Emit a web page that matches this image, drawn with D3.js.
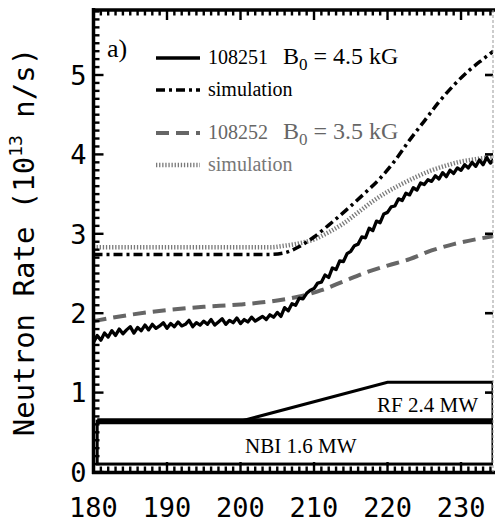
<!DOCTYPE html>
<html>
<head>
<meta charset="utf-8">
<script src="https://cdn.jsdelivr.net/npm/d3@7"></script>
<style>
  body { margin: 0; background: #fff; }
  svg { display: block; }
</style>
</head>
<body>
<script>
// shot 108251, measured neutron rate, one sample every 0.5 ms from 180 ms
const shot251Start = 180;
const shot251Step = 0.5;
const shot251Rate = [
  1.63, 1.72, 1.66, 1.75, 1.70, 1.78, 1.72, 1.80, 1.74, 1.79,
  1.83, 1.75, 1.82, 1.78, 1.85, 1.79, 1.86, 1.81, 1.84, 1.88,
  1.81, 1.87, 1.83, 1.89, 1.84, 1.86, 1.91, 1.83, 1.88, 1.85,
  1.90, 1.86, 1.92, 1.85, 1.89, 1.93, 1.86, 1.91, 1.88, 1.94,
  1.87, 1.92, 1.89, 1.95, 1.90, 1.93, 1.96, 1.92, 1.98, 1.95,
  2.01, 1.96, 2.07, 2.03, 2.12, 2.10, 2.19, 2.18, 2.25, 2.29,
  2.31, 2.38, 2.39, 2.48, 2.45, 2.57, 2.55, 2.66, 2.65, 2.75,
  2.78, 2.85, 2.87, 2.96, 2.95, 3.07, 3.04, 3.16, 3.14, 3.25,
  3.27, 3.34, 3.35, 3.44, 3.42, 3.51, 3.49, 3.58, 3.55, 3.64,
  3.62, 3.68, 3.66, 3.73, 3.69, 3.77, 3.72, 3.80, 3.76, 3.83,
  3.80, 3.87, 3.83, 3.90, 3.85, 3.93, 3.87, 3.96, 3.89, 3.94
];

// simulation for 108251
const sim251Time = [180, 204, 206, 208, 210, 212, 215, 217, 219, 221, 223, 225, 227, 229, 231, 233, 234.4];
const sim251Rate = [2.74, 2.74, 2.76, 2.84, 2.96, 3.11, 3.35, 3.52, 3.70, 3.92, 4.18, 4.42, 4.66, 4.87, 5.05, 5.20, 5.30];

// shot 108252, measured (smooth dashed trace)
const shot252Time = [180, 185, 190, 195, 200, 205, 208, 211, 214, 217, 220, 223, 226, 229, 232, 234.4];
const shot252Rate = [1.90, 1.98, 2.04, 2.08, 2.11, 2.16, 2.21, 2.29, 2.40, 2.51, 2.60, 2.68, 2.79, 2.87, 2.93, 2.97];

// simulation for 108252
const sim252Time = [180, 204, 206, 208, 210, 212, 214, 216, 218, 220, 222, 224, 226, 228, 230, 232, 234.4];
const sim252Rate = [2.83, 2.83, 2.85, 2.88, 2.93, 3.02, 3.13, 3.27, 3.41, 3.53, 3.63, 3.72, 3.80, 3.86, 3.91, 3.94, 3.97];

// heating waveforms drawn at the bottom
const nbiTime = [180.5, 234.35];
const nbiLevel = [0.1, 0.64];
const rfTime = [200, 220, 234.35];
const rfLevel = [0.64, 1.13, 1.13];

const xTicks = [180, 190, 200, 210, 220, 230];
const yTicks = [0, 1, 2, 3, 4, 5];

const W = 495, H = 523;
const plotTop = 10, plotRight = 493, plotLeft = 93.5, plotBottom = 472;

const x = d3.scaleLinear().domain([180, 234.35]).range([plotLeft, plotRight]);
const y = d3.scaleLinear().domain([0, 5]).range([plotBottom, 75]);

const svg = d3.select("body").append("svg")
  .attr("width", W).attr("height", H)
  .style("background", "#fff");

svg.append("defs").append("clipPath").attr("id", "plot")
  .append("rect").attr("x", plotLeft).attr("y", plotTop)
  .attr("width", plotRight - plotLeft).attr("height", plotBottom - plotTop);

const serif = "'Liberation Serif', 'Times New Roman', serif";
const mono = "'DejaVu Sans Mono', monospace";

// NBI and RF boxes
const g = svg.append("g").attr("clip-path", "url(#plot)");
g.append("rect")
  .attr("x", x(nbiTime[0])).attr("y", y(nbiLevel[1]))
  .attr("width", x(nbiTime[1]) - x(nbiTime[0]))
  .attr("height", y(nbiLevel[0]) - y(nbiLevel[1]))
  .attr("fill", "none").attr("stroke", "#000").attr("stroke-width", 3);
g.append("line")
  .attr("x1", x(nbiTime[0])).attr("x2", x(nbiTime[1]))
  .attr("y1", y(nbiLevel[1])).attr("y2", y(nbiLevel[1]))
  .attr("stroke", "#000").attr("stroke-width", 6);
const rfPts = rfTime.map((t, i) => [x(t), y(rfLevel[i])]);
rfPts.push([x(rfTime[2]), y(nbiLevel[1])]);
g.append("path")
  .attr("d", d3.line()(rfPts))
  .attr("fill", "none").attr("stroke", "#000").attr("stroke-width", 3)
  .attr("stroke-linejoin", "miter");

svg.append("text").text("NBI 1.6 MW")
  .attr("x", x(208.2)).attr("y", 453).attr("text-anchor", "middle")
  .attr("font-family", serif).attr("font-size", 21);
svg.append("text").text("RF 2.4 MW")
  .attr("x", 478).attr("y", 412).attr("text-anchor", "end")
  .attr("font-family", serif).attr("font-size", 21);

// curves
const line = d3.line().x(d => x(d[0])).y(d => y(d[1]));
const smooth = d3.line().x(d => x(d[0])).y(d => y(d[1])).curve(d3.curveMonotoneX);
const zip = (a, b) => a.map((t, i) => [t, b[i]]);

const shot251 = shot251Rate.map((v, i) => [shot251Start + i * shot251Step, v]);

const styles = {
  sim252: { stroke: "#7a7a7a", width: 4.5, dash: "1.3,1.8" },
  shot252: { stroke: "#666", width: 4, dash: "13,7" },
  sim251: { stroke: "#000", width: 3.5, dash: "9,4,3,4" },
  shot251: { stroke: "#000", width: 3.3, dash: null }
};

function curve(path, s) {
  g.append("path").attr("d", path)
    .attr("fill", "none").attr("stroke", s.stroke).attr("stroke-width", s.width)
    .attr("stroke-dasharray", s.dash).attr("stroke-linejoin", "round");
}
curve(smooth(zip(sim252Time, sim252Rate)), styles.sim252);
curve(smooth(zip(shot252Time, shot252Rate)), styles.shot252);
curve(smooth(zip(sim251Time, sim251Rate)), styles.sim251);
curve(line(shot251), styles.shot251);

// tick marks, drawn as small filled bars pointing into the plot
const tickG = svg.append("g").attr("fill", "#000");
const yMinor = d3.range(0, 59);
tickG.selectAll("rect.yl").data(yMinor).join("rect").attr("class", "yl")
  .attr("x", plotLeft)
  .attr("y", i => y(i / 10) - 1.2)
  .attr("width", i => i % 10 === 0 ? 10 : 6)
  .attr("height", 2.4);
const xMinor = d3.range(180, 235);
tickG.selectAll("rect.xt").data(xMinor).join("rect").attr("class", "xt")
  .attr("x", t => x(t) - 1.2)
  .attr("y", plotTop)
  .attr("width", 2.4)
  .attr("height", t => t % 10 === 0 ? 10 : 5.5);
tickG.selectAll("rect.xb").data(xMinor).join("rect").attr("class", "xb")
  .attr("x", t => x(t) - 1.2)
  .attr("y", t => plotBottom - (t % 10 === 0 ? 10 : 5.5))
  .attr("width", 2.4)
  .attr("height", t => t % 10 === 0 ? 10 : 5.5);
tickG.selectAll("rect.yr").data(yTicks.slice(1)).join("rect").attr("class", "yr")
  .attr("x", plotRight - 8)
  .attr("y", v => y(v) - 1.3)
  .attr("width", 8)
  .attr("height", 2.6);

// tick labels
svg.append("g").selectAll("text").data(yTicks).join("text")
  .attr("x", plotLeft - 7).attr("y", d => y(d)).attr("dy", "0.36em")
  .attr("text-anchor", "end")
  .attr("font-family", mono).attr("font-size", 27)
  .text(d => d);
svg.append("g").selectAll("text").data(xTicks).join("text")
  .attr("x", d => x(d)).attr("y", 517)
  .attr("text-anchor", "middle")
  .attr("font-family", mono).attr("font-size", 27)
  .text(d => d);

// frame
svg.append("line").attr("x1", plotLeft).attr("x2", plotLeft).attr("y1", plotTop - 2).attr("y2", plotBottom + 2)
  .attr("stroke", "#000").attr("stroke-width", 3.5);
svg.append("line").attr("x1", plotLeft - 1.5).attr("x2", W).attr("y1", plotTop).attr("y2", plotTop)
  .attr("stroke", "#000").attr("stroke-width", 3.5);
svg.append("line").attr("x1", plotLeft - 1.5).attr("x2", W).attr("y1", plotBottom + 0.5).attr("y2", plotBottom + 0.5)
  .attr("stroke", "#000").attr("stroke-width", 3.5);
svg.append("line").attr("x1", plotRight).attr("x2", plotRight).attr("y1", plotTop).attr("y2", plotBottom)
  .attr("stroke", "#999").attr("stroke-width", 1).attr("stroke-dasharray", "3,2");

// y title
const title = svg.append("text")
  .attr("transform", "translate(34,242) rotate(-90)")
  .attr("text-anchor", "middle")
  .attr("font-family", mono).attr("font-size", 29);
title.append("tspan").text("Neutron Rate (10");
title.append("tspan").text("13").attr("font-size", 18).attr("dy", -12);
title.append("tspan").text(" n/s)").attr("dy", 12);

// panel label and legend
svg.append("text").text("a)").attr("x", 107).attr("y", 57)
  .attr("font-family", serif).attr("font-size", 26);

const legendRows = [
  { key: "shot251", y: 58, label: "108251", field: "4.5", color: "#000" },
  { key: "sim251", y: 90, label: "simulation", color: "#000" },
  { key: "shot252", y: 133, label: "108252", field: "3.5", color: "#666" },
  { key: "sim252", y: 165, label: "simulation", color: "#777" }
];
legendRows.forEach(r => {
  const s = styles[r.key];
  svg.append("line").attr("x1", 156).attr("x2", 200).attr("y1", r.y).attr("y2", r.y)
    .attr("stroke", s.stroke).attr("stroke-width", s.width).attr("stroke-dasharray", s.dash);
  svg.append("text").text(r.label).attr("x", 208).attr("y", r.y + 6)
    .attr("font-family", serif).attr("font-size", 20).attr("fill", r.color);
  if (r.field) {
    const t = svg.append("text").attr("x", 283).attr("y", r.y + 6)
      .attr("font-family", serif).attr("font-size", 24).attr("fill", r.color);
    t.append("tspan").text("B");
    t.append("tspan").text("0").attr("font-size", 17).attr("dy", 6);
    t.append("tspan").text(" = " + r.field + " kG").attr("dy", -6);
  }
});
</script>
</body>
</html>
